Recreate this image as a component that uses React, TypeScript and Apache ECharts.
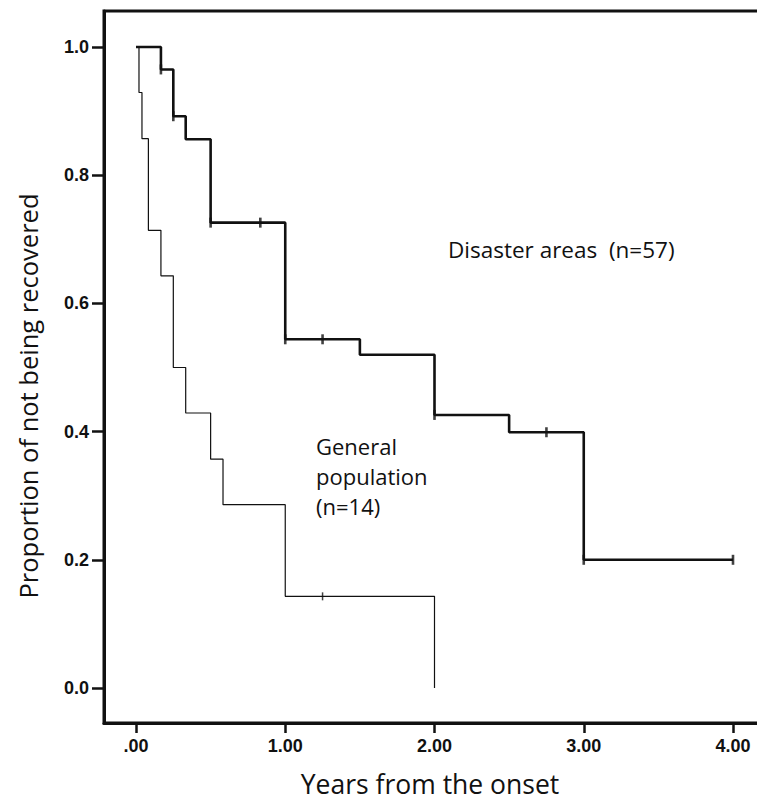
import React, { useEffect, useRef } from "react";
import * as echarts from "echarts";

// Kaplan–Meier step points [years, proportion]
const disasterSteps: [number, number][] = [
  [0, 1.0], [0.167, 0.965], [0.25, 0.892], [0.333, 0.856], [0.5, 0.726],
  [1.0, 0.544], [1.5, 0.52], [2.0, 0.426], [2.5, 0.399], [3.0, 0.2], [4.0, 0.2],
];
const disasterCensored: [number, number][] = [
  [0.167, 0.965], [0.25, 0.892], [0.5, 0.726], [0.833, 0.726], [1.0, 0.544],
  [1.25, 0.544], [2.0, 0.426], [2.75, 0.399], [3.0, 0.2], [4.0, 0.2],
];
const generalSteps: [number, number][] = [
  [0, 1.0], [0.02, 0.929], [0.04, 0.857], [0.083, 0.714], [0.167, 0.643],
  [0.25, 0.5], [0.333, 0.429], [0.5, 0.357], [0.583, 0.286], [1.0, 0.143], [2.0, 0.0],
];
const generalCensored: [number, number][] = [[1.25, 0.143]];

const xTicks = [0, 1, 2, 3, 4];
const yTicks = [0, 0.2, 0.4, 0.6, 0.8, 1.0];

const xTitle = "Years from the onset";
const yTitle = "Proportion of not being recovered";
const disasterLabel = "Disaster areas  (n=57)";
const generalLabel = "General\npopulation\n(n=14)";

export default function App() {
  const ref = useRef<HTMLDivElement>(null);
  useEffect(() => {
    if (!ref.current) return;
    const chart = echarts.init(ref.current, null, { renderer: "svg" });
    const black = "#111";
    const textFont = "Open Sans, Noto Sans, sans-serif";
    chart.setOption({
      animation: false,
      backgroundColor: "#fff",
      grid: {
        left: 104,
        top: 11,
        width: 740,
        height: 712,
        show: true,
        borderColor: black,
        borderWidth: 3,
        containLabel: false,
        outerBoundsMode: "none",
      },
      xAxis: {
        type: "value",
        min: -32 / 149.25,
        max: (844 - 136) / 149.25,
        splitLine: { show: false },
        axisLine: { show: true, onZero: false, lineStyle: { color: black, width: 3 } },
        axisTick: {
          show: true,
          customValues: xTicks,
          length: 10,
          lineStyle: { color: black, width: 2.5 },
        },
        axisLabel: {
          customValues: xTicks,
          margin: 14,
          fontFamily: "Liberation Sans, Arial, sans-serif",
          fontWeight: "bold",
          fontSize: 18,
          color: black,
          formatter: (v: number) => (v === 0 ? ".00" : v.toFixed(2)),
        },
      },
      yAxis: {
        type: "value",
        min: -35 / 641,
        max: 1 + 36 / 641,
        splitLine: { show: false },
        axisLine: { show: true, onZero: false, lineStyle: { color: black, width: 3 } },
        axisTick: {
          show: true,
          customValues: yTicks,
          length: 12,
          lineStyle: { color: black, width: 2.5 },
        },
        axisLabel: {
          customValues: yTicks,
          margin: 15,
          fontFamily: "Liberation Sans, Arial, sans-serif",
          fontWeight: "bold",
          fontSize: 18,
          color: black,
          formatter: (v: number) => v.toFixed(1),
        },
      },
      graphic: [
        {
          type: "text",
          x: 430,
          y: 784,
          style: {
            text: xTitle,
            fontFamily: textFont,
            fontSize: 26.5,
            fill: black,
            align: "center",
            verticalAlign: "middle",
          },
        },
        {
          type: "text",
          x: 28,
          y: 396,
          rotation: Math.PI / 2,
          style: {
            text: yTitle,
            fontFamily: textFont,
            fontSize: 25.5,
            fill: black,
            align: "center",
            verticalAlign: "middle",
          },
        },
        {
          type: "text",
          x: 448,
          y: 249,
          style: {
            text: disasterLabel,
            fontFamily: textFont,
            fontSize: 22.5,
            fill: black,
            align: "left",
            verticalAlign: "middle",
          },
        },
        {
          type: "text",
          x: 316,
          y: 476,
          style: {
            text: generalLabel,
            fontFamily: textFont,
            fontSize: 22,
            lineHeight: 30,
            fill: black,
            align: "left",
            verticalAlign: "middle",
          },
        },
      ],
      series: [
        {
          type: "line",
          name: "Disaster areas",
          step: "end",
          data: disasterSteps,
          showSymbol: false,
          lineStyle: { color: black, width: 2.6 },
          z: 3,
        },
        {
          type: "line",
          name: "General population",
          step: "end",
          data: generalSteps,
          showSymbol: false,
          lineStyle: { color: black, width: 1.2 },
          z: 2,
        },
        {
          type: "scatter",
          data: disasterCensored,
          symbol: "rect",
          symbolSize: [2.6, 10],
          itemStyle: { color: black },
          z: 4,
        },
        {
          type: "scatter",
          data: generalCensored,
          symbol: "rect",
          symbolSize: [1.5, 8],
          itemStyle: { color: black },
          z: 4,
        },
      ],
    });
    return () => chart.dispose();
  }, []);
  return (
    <div
      ref={ref}
      style={{ position: "fixed", left: 0, top: 0, width: 757, height: 801, background: "#fff" }}
    />
  );
}
